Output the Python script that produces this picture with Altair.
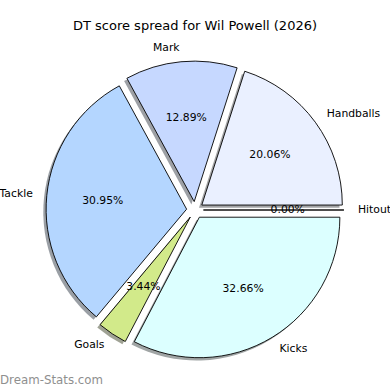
import math
import altair as alt
import pandas as pd

# ---- data ----
labels = ["Hitout", "Handballs", "Mark", "Tackle", "Goals", "Kicks"]
values = [0.00, 20.06, 12.89, 30.95, 3.44, 32.66]
colors = ["#fbe8e8", "#eaf0ff", "#c6d8ff", "#b4d6ff", "#d2ea8a", "#dcffff"]

TITLE = "DT score spread for Wil Powell (2026)"
WATERMARK = "Dream-Stats.com"

# ---- layout / style ----
W, H = 390, 390
CX, CY = 195, 210          # pie centre in pixels
R = 140.5                  # pie radius in pixels
EXPLODE = 0.06             # radial offset of every wedge (fraction of R)
SHADOW = 0.02              # matplotlib-style shadow offset (fraction of R)
FONT = "DejaVu Sans"
LABEL_SIZE = 10.8
TITLE_SIZE = 13


def shade(hexc, k=0.3):
    r, g, b = (int(hexc[i:i + 2], 16) for i in (1, 3, 5))
    return "#%02x%02x%02x" % (round(r * k), round(g * k), round(b * k))


df = pd.DataFrame({
    "label": labels,
    "value": values,
    "color": colors,
    "shadow": [shade(c) for c in colors],
    "order": list(range(len(labels))),
})

xs = alt.Scale(domain=[-CX / R, (W - CX) / R], nice=False, zero=False)
ys = alt.Scale(domain=[-(H - CY) / R, CY / R], nice=False, zero=False)
ts = alt.Scale(domain=[0, 1], range=[math.pi / 2, -1.5 * math.pi])

base = (
    alt.Chart(df)
    .transform_joinaggregate(total="sum(value)")
    .transform_window(cum="sum(value)", sort=[alt.SortField("order", order="ascending")])
    .transform_calculate(
        f0="(datum.cum - datum.value) / datum.total",
        f1="datum.cum / datum.total",
        mid="2 * PI * (datum.cum - datum.value / 2) / datum.total",
        pct="format(100 * datum.value / datum.total, '.2f') + '%'",
    )
    .transform_calculate(
        ex=f"{EXPLODE} * cos(datum.mid)",
        ey=f"{EXPLODE} * sin(datum.mid)",
    )
    .transform_calculate(
        sx=f"datum.ex - {SHADOW}",
        sy=f"datum.ey - {SHADOW}",
        lx="datum.ex + 1.1 * cos(datum.mid)",
        ly="datum.ey + 1.1 * sin(datum.mid)",
        px="datum.ex + 0.6 * cos(datum.mid)",
        py="datum.ey + 0.6 * sin(datum.mid)",
    )
)

shadows = base.mark_arc(radius=R, fillOpacity=0.5, strokeWidth=0).encode(
    x=alt.X("sx:Q", scale=xs, axis=None),
    y=alt.Y("sy:Q", scale=ys, axis=None),
    theta=alt.Theta("f0:Q", scale=ts, stack=None),
    theta2="f1:Q",
    fill=alt.Fill("shadow:N", scale=None),
)

wedges = base.mark_arc(radius=R, stroke="black", strokeWidth=0.9).encode(
    x=alt.X("ex:Q", scale=xs, axis=None),
    y=alt.Y("ey:Q", scale=ys, axis=None),
    theta=alt.Theta("f0:Q", scale=ts, stack=None),
    theta2="f1:Q",
    fill=alt.Fill("color:N", scale=None),
)

pct_text = base.mark_text(font=FONT, fontSize=LABEL_SIZE, color="black",
                          align="center", baseline="middle").encode(
    x=alt.X("px:Q", scale=xs, axis=None),
    y=alt.Y("py:Q", scale=ys, axis=None),
    text="pct:N",
)

lab_right = base.transform_filter("datum.lx > 0").mark_text(
    font=FONT, fontSize=LABEL_SIZE, color="black", align="left", baseline="middle").encode(
    x=alt.X("lx:Q", scale=xs, axis=None),
    y=alt.Y("ly:Q", scale=ys, axis=None),
    text="label:N",
)

lab_left = base.transform_filter("datum.lx <= 0").mark_text(
    font=FONT, fontSize=LABEL_SIZE, color="black", align="right", baseline="middle").encode(
    x=alt.X("lx:Q", scale=xs, axis=None),
    y=alt.Y("ly:Q", scale=ys, axis=None),
    text="label:N",
)

title = alt.Chart(pd.DataFrame({"t": [TITLE]})).mark_text(
    font=FONT, fontSize=TITLE_SIZE, color="black", align="center", baseline="alphabetic").encode(
    x=alt.value(W / 2), y=alt.value(30), text="t:N")

mark = alt.Chart(pd.DataFrame({"t": [WATERMARK]})).mark_text(
    font=FONT, fontSize=11.8, color="#8f8f8f", align="left", baseline="alphabetic").encode(
    x=alt.value(0), y=alt.value(384), text="t:N")

chart = (
    alt.layer(shadows, wedges, pct_text, lab_right, lab_left, title, mark)
    .properties(width=W, height=H, autosize="none", padding=0, background="white")
    .configure_view(strokeWidth=0)
)

chart.save("out.html", embed_options={"renderer": "svg", "actions": False})
